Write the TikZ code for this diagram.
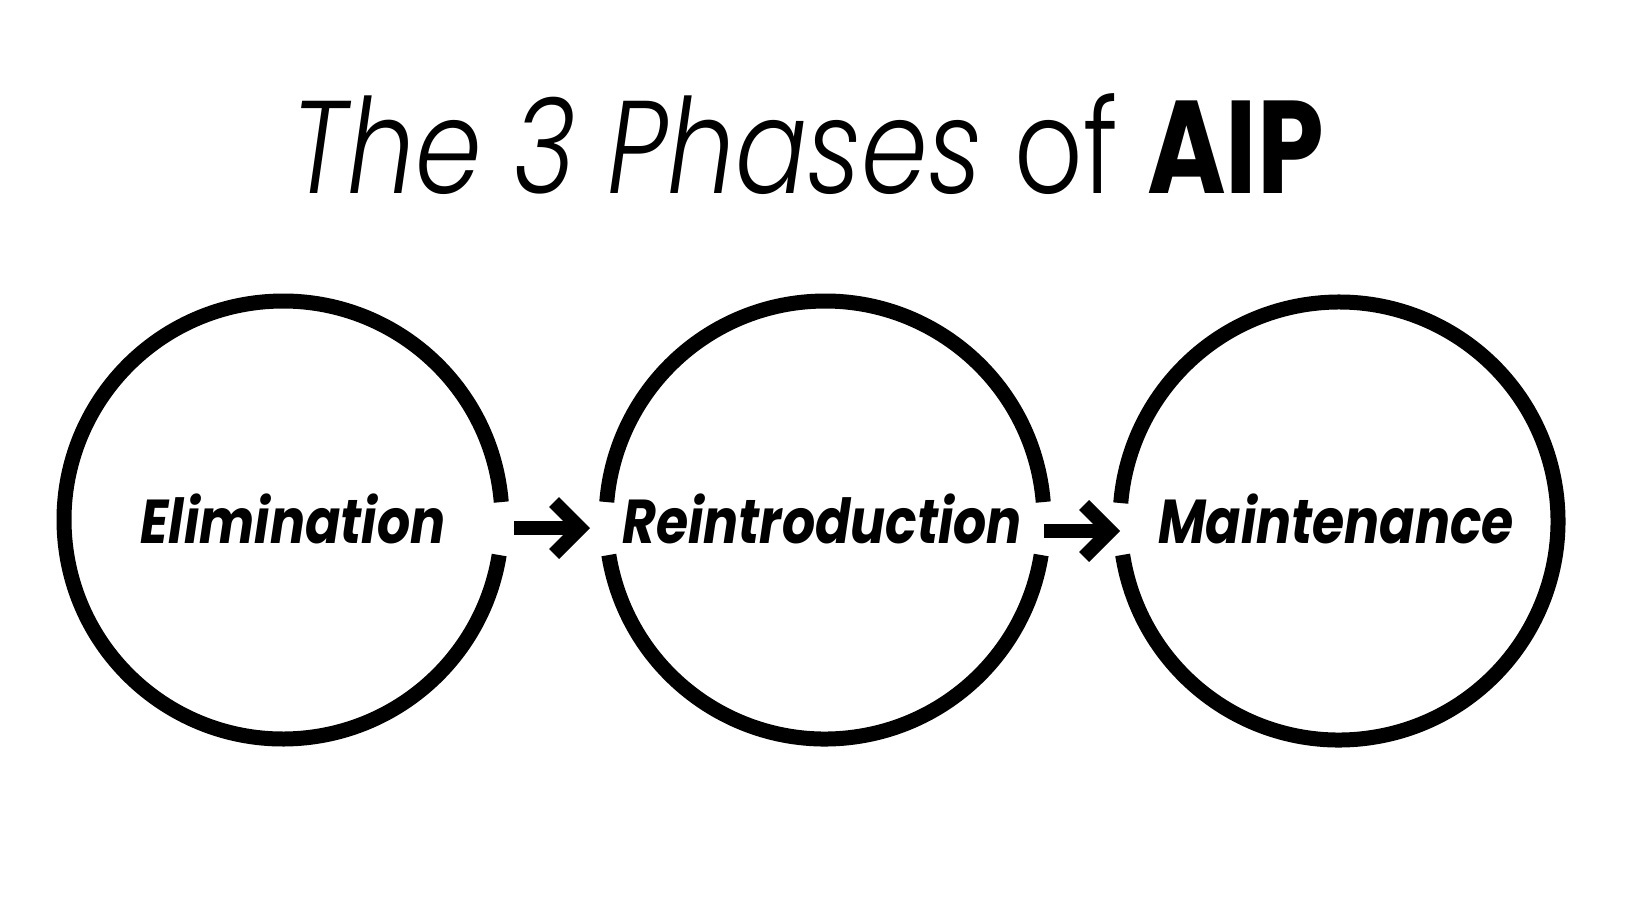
\documentclass[tikz,border=0pt]{standalone}
\usepackage{fontspec}
\setmainfont{Poppins}[FakeStretch=0.84]
\IfFontExistsTF{Poppins Light Italic}{%
  \newfontfamily\titlefont{Poppins}[FakeStretch=0.81, UprightFont=* Light, ItalicFont=* Light Italic, BoldFont=* Bold]}{%
  \newfontfamily\titlefont{Poppins}[FakeStretch=0.81]}
\usetikzlibrary{arrows.meta}

\begin{document}
\begin{tikzpicture}[x=1pt,y=1pt]

    \tikzset{
      ring/.style={
        line width=15pt,
      },
      phase/.style={
        anchor=base,
        inner sep=0pt,
        font=\fontsize{62}{62}\selectfont\bfseries\itshape,
      },
      flow/.style={
        line width=14pt,
        -{Straight Barb[length=26pt, width=52pt]},
      },
    }
    \fill[white] (0,0) rectangle (1638,-914);
    \useasboundingbox (0,0) rectangle (1638,-914);

    \node[anchor=base, inner sep=0pt, font=\titlefont\fontsize{132}{132}\selectfont] (title) at (808,-193.5) {\itshape The 3 Phases \upshape of \bfseries AIP};

    \coordinate (c1) at (283,-520);
    \coordinate (c2) at (825,-520);
    \coordinate (c3) at (1339,-521);

	\draw[ring] (c1) ++(4.7:219) arc[start angle=4.7, end angle=350.8, radius=219];
	\draw[ring] (c2) ++(4.7:219) arc[start angle=4.7, end angle=175.3, radius=219];
	\draw[ring] (c2) ++(189.2:219) arc[start angle=189.2, end angle=350.8, radius=219];
	\draw[ring] (c3) ++(188.9:219) arc[start angle=188.9, end angle=535.3, radius=219];

    \node[phase] (elim) at (293,-543) {Elimination};
    \node[phase] (reint) at (822,-543) {Reintroduction};
    \node[phase] (maint) at (1336,-543) {Maintenance};

    \coordinate (a1s) at (514,-528);
    \coordinate (a1e) at (590,-528);
    \coordinate (a2s) at (1044,-531);
    \coordinate (a2e) at (1120,-531);
    \draw[flow] (a1s) -- (a1e);
    \draw[flow] (a2s) -- (a2e);

\end{tikzpicture}
\end{document}
